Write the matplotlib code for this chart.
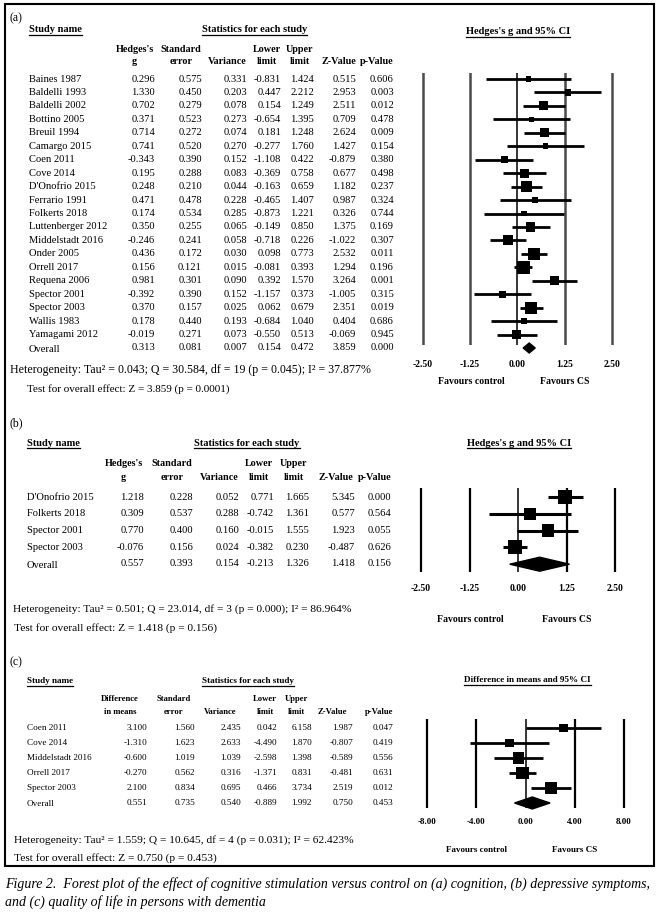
import matplotlib.pyplot as plt

plt.rcParams['font.family'] = ['Liberation Serif', 'DejaVu Serif']

# ---- (a) cognition ----
names_a = ['Baines 1987', 'Baldelli 1993', 'Baldelli 2002', 'Bottino 2005', 'Breuil 1994',
           'Camargo 2015', 'Coen 2011', 'Cove 2014', "D'Onofrio 2015", 'Ferrario 1991',
           'Folkerts 2018', 'Luttenberger 2012', 'Middelstadt 2016', 'Onder 2005',
           'Orrell 2017', 'Requena 2006', 'Spector 2001', 'Spector 2003', 'Wallis 1983',
           'Yamagami 2012']
g_a = [0.296, 1.330, 0.702, 0.371, 0.714, 0.741, -0.343, 0.195, 0.248, 0.471,
       0.174, 0.350, -0.246, 0.436, 0.156, 0.981, -0.392, 0.370, 0.178, -0.019]
se_a = [0.575, 0.450, 0.279, 0.523, 0.272, 0.520, 0.390, 0.288, 0.210, 0.478,
        0.534, 0.255, 0.241, 0.172, 0.121, 0.301, 0.390, 0.157, 0.440, 0.271]
var_a = [0.331, 0.203, 0.078, 0.273, 0.074, 0.270, 0.152, 0.083, 0.044, 0.228,
         0.285, 0.065, 0.058, 0.030, 0.015, 0.090, 0.152, 0.025, 0.193, 0.073]
lo_a = [-0.831, 0.447, 0.154, -0.654, 0.181, -0.277, -1.108, -0.369, -0.163, -0.465,
        -0.873, -0.149, -0.718, 0.098, -0.081, 0.392, -1.157, 0.062, -0.684, -0.550]
hi_a = [1.424, 2.212, 1.249, 1.395, 1.248, 1.760, 0.422, 0.758, 0.659, 1.407,
        1.221, 0.850, 0.226, 0.773, 0.393, 1.570, 0.373, 0.679, 1.040, 0.513]
z_a = [0.515, 2.953, 2.511, 0.709, 2.624, 1.427, -0.879, 0.677, 1.182, 0.987,
       0.326, 1.375, -1.022, 2.532, 1.294, 3.264, -1.005, 2.351, 0.404, -0.069]
p_a = [0.606, 0.003, 0.012, 0.478, 0.009, 0.154, 0.380, 0.498, 0.237, 0.324,
       0.744, 0.169, 0.307, 0.011, 0.196, 0.001, 0.315, 0.019, 0.686, 0.945]
overall_a = [0.313, 0.081, 0.007, 0.154, 0.472, 3.859, 0.000]
het_a = ['0.043', '30.584', '19', '0.045', '37.877']
test_a = ['3.859', '0.0001']

# ---- (b) depressive symptoms ----
names_b = ["D'Onofrio 2015", 'Folkerts 2018', 'Spector 2001', 'Spector 2003']
g_b = [1.218, 0.309, 0.770, -0.076]
se_b = [0.228, 0.537, 0.400, 0.156]
var_b = [0.052, 0.288, 0.160, 0.024]
lo_b = [0.771, -0.742, -0.015, -0.382]
hi_b = [1.665, 1.361, 1.555, 0.230]
z_b = [5.345, 0.577, 1.923, -0.487]
p_b = [0.000, 0.564, 0.055, 0.626]
overall_b = [0.557, 0.393, 0.154, -0.213, 1.326, 1.418, 0.156]
het_b = ['0.501', '23.014', '3', '0.000', '86.964']
test_b = ['1.418', '0.156']

# ---- (c) quality of life ----
names_c = ['Coen 2011', 'Cove 2014', 'Middelstadt 2016', 'Orrell 2017', 'Spector 2003']
d_c = [3.100, -1.310, -0.600, -0.270, 2.100]
se_c = [1.560, 1.623, 1.019, 0.562, 0.834]
var_c = [2.435, 2.633, 1.039, 0.316, 0.695]
lo_c = [0.042, -4.490, -2.598, -1.371, 0.466]
hi_c = [6.158, 1.870, 1.398, 0.831, 3.734]
z_c = [1.987, -0.807, -0.589, -0.481, 2.519]
p_c = [0.047, 0.419, 0.556, 0.631, 0.012]
overall_c = [0.551, 0.735, 0.540, -0.889, 1.992, 0.750, 0.453]
het_c = ['1.559', '10.645', '4', '0.031', '62.423']
test_c = ['0.750', '0.453']

ticks_g = [-2.50, -1.25, 0.00, 1.25, 2.50]
ticks_d = [-8.00, -4.00, 0.00, 4.00, 8.00]

W, H = 662, 917
fig = plt.figure(figsize=(W / 100, H / 100), dpi=100)
bg = fig.add_axes([0, 0, 1, 1])
bg.set_xlim(0, W)
bg.set_ylim(H, 0)
bg.axis('off')

underlined = []


def txt(x, y, s, size=7.5, ha='left', bold=False, ul=False, **kw):
    t = bg.text(x, y, s, fontsize=size, ha=ha, va='center',
                fontweight='bold' if bold else 'normal', **kw)
    if ul:
        underlined.append(t)
    return t


def headers(y1, y2, centers, hdr1, hdr2, size):
    for c, a, b in zip(centers, hdr1, hdr2):
        if a:
            txt(c, y1, a, size, ha='center', bold=True)
        txt(c, y2, b, size, ha='center', bold=True)


def table(names, cols, overall, y0, dy, y_ov, name_x, rights, size):
    for i, nm in enumerate(names):
        y = y0 + i * dy
        txt(name_x, y, nm, size)
        for col, r in zip(cols, rights):
            txt(r, y, f"{col[i]:.3f}", size, ha='right')
    txt(name_x, y_ov + 1, 'Overall', size)
    for v, r in zip(overall, rights):
        txt(r, y_ov, f"{v:.3f}", size, ha='right')


def forest(xpx, ypx, y0, dy, ticks, est, lo, hi, var, tau2, ov, maxpx,
           diam_h, lw, pad, tsize, outer_col, vlw):
    span = ticks[-1] - ticks[0]
    scale = (xpx[1] - xpx[0]) / span
    m = 0.03 * span
    left = (xpx[0] - m * scale) / W
    width = (xpx[1] - xpx[0] + 2 * m * scale) / W
    ax = fig.add_axes([left, 1 - ypx[1] / H, width, (ypx[1] - ypx[0]) / H])
    ax.set_xlim(ticks[0] - m, ticks[-1] + m)
    ax.set_ylim((ypx[1] - y0) / dy, (ypx[0] - y0) / dy)
    for t in ticks:
        if t == 0:
            ax.axvline(t, color='black', lw=1.1)
        else:
            ax.axvline(t, color=outer_col, lw=vlw)
    n = len(est)
    rows = list(range(n))
    for i in rows:
        ax.plot([lo[i], hi[i]], [i, i], color='black', lw=lw, solid_capstyle='butt')
    w = [1 / (v + tau2) for v in var]
    wmax = max(w)
    sizes = [(maxpx * (x / wmax) ** 0.5 / 1.389) ** 2 for x in w]
    ax.scatter(est, rows, s=sizes, marker='s', color='black', zorder=3, linewidths=0)
    h = diam_h / dy
    ax.fill([ov[3], ov[0], ov[4], ov[0]], [n, n - h, n, n + h],
            color='black', clip_on=False, zorder=3)
    ax.set_xticks(ticks)
    ax.set_xticklabels([f"{t:.2f}" for t in ticks], fontweight='bold', fontsize=tsize)
    ax.tick_params(length=0, pad=pad)
    ax.set_yticks([])
    for sp in ax.spines.values():
        sp.set_visible(False)
    ax.patch.set_alpha(0)
    return ax


def het_text(x1, y1, x2, y2, het, test, size1, size2):
    txt(x1, y1, f"Heterogeneity: Tau\u00b2 = {het[0]}; Q = {het[1]}, df = {het[2]} "
        f"(p = {het[3]}); I\u00b2 = {het[4]}%", size1)
    txt(x2, y2, f"Test for overall effect: Z = {test[0]} (p = {test[1]})", size2)


# ---------------- panel (a) ----------------
txt(10, 18, '(a)', 8.5)
txt(29, 30, 'Study name', 7.5, bold=True, ul=True)
txt(254.5, 30, 'Statistics for each study', 7.5, ha='center', bold=True, ul=True)
txt(518, 32, "Hedges's g and 95% CI", 7.5, ha='center', bold=True, ul=True)
headers(50, 62, [134.5, 181, 227.5, 266.5, 300, 338.5, 376.5],
        ["Hedges's", 'Standard', '', 'Lower', 'Upper', '', ''],
        ['g', 'error', 'Variance', 'limit', 'limit', 'Z-Value', 'p-Value'], 7.3)
table(names_a, [g_a, se_a, var_a, lo_a, hi_a, z_a, p_a], overall_a, 79, 13.45, 348, 29,
      [155, 202, 247, 281, 314, 356, 394], 7.6)
het_text(10, 370, 27, 389, het_a, test_a, 8.6, 8)
forest((422.7, 612), (73, 345), 79, 13.45, ticks_g, g_a, lo_a, hi_a, var_a, 0.043,
       overall_a, 13, 5, 2.0, 10.5, 7, '#4a4a4a', 1.8)
txt(471, 382, 'Favours control', 7, ha='center', bold=True)
txt(565, 382, 'Favours CS', 7, ha='center', bold=True)

# ---------------- panel (b) ----------------
txt(10, 423, '(b)', 8.5)
txt(27, 443, 'Study name', 7.5, bold=True, ul=True)
txt(247, 443, 'Statistics for each study', 7.5, ha='center', bold=True, ul=True)
txt(519, 443, "Hedges's g and 95% CI", 7.5, ha='center', bold=True, ul=True)
headers(463, 477, [123.5, 172, 219, 259, 294, 335.5, 375],
        ["Hedges's", 'Standard', '', 'Lower', 'Upper', '', ''],
        ['g', 'error', 'Variance', 'limit', 'limit', 'Z-Value', 'p-Value'], 7.3)
table(names_b, [g_b, se_b, var_b, lo_b, hi_b, z_b, p_b], overall_b, 497, 16.8, 564, 27,
      [144, 193, 239, 274, 309, 355, 391], 7.6)
het_text(13, 609, 14, 628, het_b, test_b, 8.2, 8.2)
forest((421, 615), (488, 572), 497, 16.8, ticks_g, g_b, lo_b, hi_b, var_b, 0.501,
       overall_b, 14, 7, 2.2, 8.5, 7, 'black', 1.6)
txt(470, 619, 'Favours control', 7, ha='center', bold=True)
txt(567, 619, 'Favours CS', 7, ha='center', bold=True)

# ---------------- panel (c) ----------------
txt(10, 662, '(c)', 8.5)
txt(27, 681, 'Study name', 6.6, bold=True, ul=True)
txt(247.5, 681, 'Statistics for each study', 6.6, ha='center', bold=True, ul=True)
txt(527.5, 680, 'Difference in means and 95% CI', 6.6, ha='center', bold=True, ul=True)
headers(699, 712, [120, 173.5, 220, 265, 296, 332.5, 379],
        ['Difference', 'Standard', '', 'Lower', 'Upper', '', ''],
        ['in means', 'error', 'Variance', 'limit', 'limit', 'Z-Value', 'p-Value'], 6.2)
table(names_c, [d_c, se_c, var_c, lo_c, hi_c, z_c, p_c], overall_c, 728, 15, 803, 27,
      [147, 195, 241, 277, 312, 353, 393], 6.6)
het_text(14, 840, 14, 858, het_c, test_c, 8.2, 8.2)
forest((427, 624), (719, 808), 728, 15, ticks_d, d_c, lo_c, hi_c, var_c, 1.559,
       overall_c, 13, 6, 2.0, 7, 6.5, 'black', 1.6)
txt(476, 850, 'Favours control', 6.5, ha='center', bold=True)
txt(575, 850, 'Favours CS', 6.5, ha='center', bold=True)

# panel border
bg.add_patch(plt.Rectangle((5, 4), 649, 862, fill=False, lw=1.5, ec='black'))

# caption
txt(5, 884, 'Figure 2.  Forest plot of the effect of cognitive stimulation versus control on '
    '(a) cognition, (b) depressive symptoms,', 10, style='italic')
txt(5, 902, 'and (c) quality of life in persons with dementia', 10, style='italic')

# underline headings
fig.canvas.draw()
renderer = fig.canvas.get_renderer()
inv = bg.transData.inverted()
for t in underlined:
    bb = t.get_window_extent(renderer)
    (x0, y0), (x1, _) = inv.transform([(bb.x0, bb.y0), (bb.x1, bb.y0)])
    bg.plot([x0, x1], [y0 + 0.5, y0 + 0.5], color='black', lw=0.9)

fig.savefig('out.png', dpi=100)
